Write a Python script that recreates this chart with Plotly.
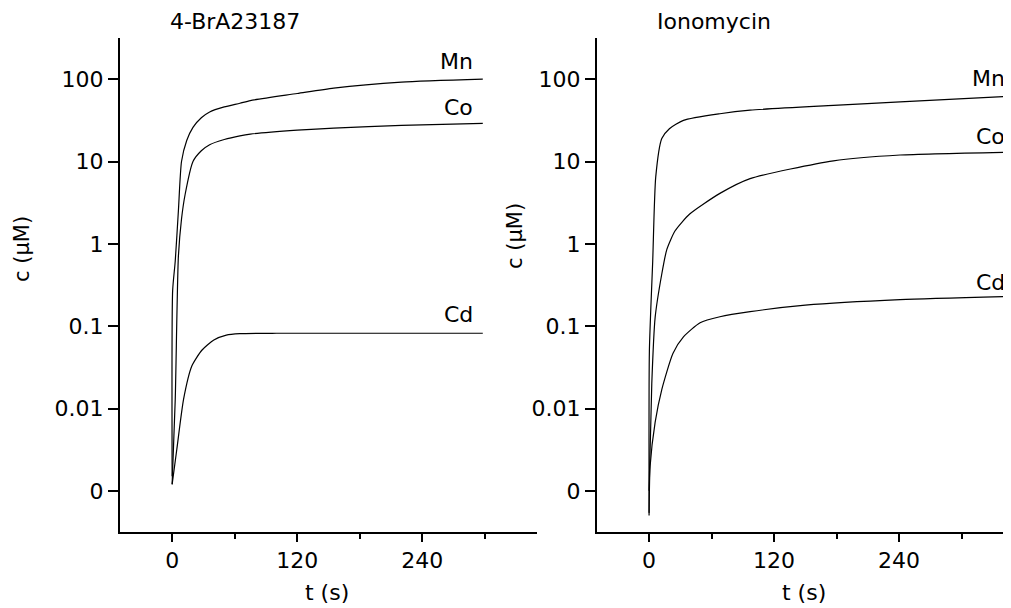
import plotly.graph_objects as go

# ---------------- data ----------------
# Left panel: 4-BrA23187
t_mn_L = [0, 0.5, 3, 6, 9, 14, 20, 28, 36, 50, 65, 75, 120, 155, 220, 298]
c_mn_L = [0.0015, 0.27, 0.62, 2.5, 10, 18, 26, 34, 40, 46, 51, 55, 67, 78, 92, 100]

t_co_L = [0, 3, 6, 9, 12.5, 20, 28, 36, 50, 65, 75, 120, 155, 220, 298]
c_co_L = [0.0012, 0.013, 0.7, 2.0, 4.0, 10, 13.5, 16.0, 18.5, 20.5, 21.5, 24, 25.5, 27.5, 29]

t_cd_L = [0, 4.5, 11, 19, 28.5, 40, 52, 65, 100, 298]
c_cd_L = [0.0012, 0.0032, 0.013, 0.033, 0.051, 0.068, 0.078, 0.081, 0.082, 0.082]

# Right panel: Ionomycin
t_mn_R = [0, 0.3, 3.5, 6.4, 12.2, 19.5, 33, 68, 97, 177, 241, 348]
c_mn_R = [0.0005, 0.05, 0.62, 6.5, 19, 25, 31.6, 38, 42, 48, 53, 62]

t_co_R = [0, 2.6, 5.8, 12.2, 17, 25, 39, 68, 97, 177, 241, 348]
c_co_R = [0.001, 0.02, 0.127, 0.43, 0.85, 1.44, 2.3, 4.1, 6.2, 10.2, 12.0, 13.0]

t_cd_R = [0, 1, 5.8, 12.2, 23, 33, 49, 68, 97, 150, 241, 348]
c_cd_R = [0.00054, 0.002, 0.0068, 0.017, 0.047, 0.074, 0.11, 0.13, 0.15, 0.18, 0.21, 0.23]

y_tickvals = [0.001, 0.01, 0.1, 1, 10, 100]
y_ticktext = ["0", "0.01", "0.1", "1", "10", "100"]
x_tickvals = [0, 120, 240]
x_ticktext = ["0", "120", "240"]

panel_titles = ["4-BrA23187", "Ionomycin"]
x_title = "t (s)"
y_title = "c (\u03bcM)"

# label positions (data coords: t, log10 c)
labels_L = [("Mn", 291, 2.22), ("Co", 291, 1.65), ("Cd", 291, -0.855)]
labels_R = [("Mn", 344, 2.01), ("Co", 344, 1.30), ("Cd", 344, -0.47)]

# ---------------- figure ----------------
# the page body has an 8 px margin, so lay out in reference pixels minus 8
OFF = 8
W, H = 1011 - OFF, 608 - OFF
FONT = "DejaVu Sans"
FS = 22


def px(x):
    return (x - OFF) / W


def py(y):
    return 1 - (y - OFF) / H


fig = go.Figure()
line = dict(color="black", width=1.2, shape="spline", smoothing=0.6)

for t, c in [(t_mn_L, c_mn_L), (t_co_L, c_co_L), (t_cd_L, c_cd_L)]:
    fig.add_trace(go.Scatter(x=t, y=c, mode="lines", line=line,
                             xaxis="x", yaxis="y", showlegend=False))
for t, c in [(t_mn_R, c_mn_R), (t_co_R, c_co_R), (t_cd_R, c_cd_R)]:
    fig.add_trace(go.Scatter(x=t, y=c, mode="lines", line=line,
                             xaxis="x2", yaxis="y2", showlegend=False))

ydom = [py(532), py(38)]


def xaxis(domain, rng, anchor):
    return dict(domain=domain, range=rng, anchor=anchor,
                showline=True, linecolor="black", linewidth=2,
                showgrid=False, zeroline=False,
                ticks="outside", ticklen=8, tickwidth=1.5, tickcolor="black",
                tickvals=x_tickvals, ticktext=x_ticktext,
                minor=dict(ticks="outside", ticklen=5, tickwidth=1.5,
                           tickcolor="black", dtick=60, tick0=0),
                tickfont=dict(family=FONT, size=FS, color="black"))


def yaxis(anchor):
    return dict(domain=ydom, type="log", range=[-3.5, 2.5], anchor=anchor,
                showline=True, linecolor="black", linewidth=2,
                showgrid=False, zeroline=False,
                ticks="outside", ticklen=10, tickwidth=1.5, tickcolor="black",
                tickvals=y_tickvals, ticktext=y_ticktext,
                tickfont=dict(family=FONT, size=FS, color="black"))


fig.update_layout(
    width=W, height=H,
    margin=dict(l=0, r=0, t=0, b=0),
    paper_bgcolor="white", plot_bgcolor="white",
    showlegend=False,
    xaxis=xaxis([px(120), px(537)], [-50, 350], "y"),
    yaxis=yaxis("x"),
    xaxis2=xaxis([px(597), 1.0], [-50, 347.5], "y2"),
    yaxis2=yaxis("x2"),
)

ann = []
tf = dict(family=FONT, size=FS, color="black")
# panel titles
ann.append(dict(text=panel_titles[0], x=px(235), y=py(21), xref="paper", yref="paper",
                showarrow=False, font=tf, xanchor="center", yanchor="middle"))
ann.append(dict(text=panel_titles[1], x=px(714), y=py(21), xref="paper", yref="paper",
                showarrow=False, font=tf, xanchor="center", yanchor="middle"))
# x titles
for xc in (327, 804):
    ann.append(dict(text=x_title, x=px(xc), y=py(592), xref="paper", yref="paper",
                    showarrow=False, font=tf, xanchor="center", yanchor="middle"))
# y titles
for xc, yc in ((22, 249), (515, 236)):
    ann.append(dict(text=y_title, x=px(xc), y=py(yc), xref="paper", yref="paper",
                    showarrow=False, font=dict(family=FONT, size=21, color="black"),
                    textangle=-90, xanchor="center", yanchor="middle"))
# curve labels
for txt, xv, yv in labels_L:
    ann.append(dict(text=txt, x=xv, y=yv, xref="x", yref="y", showarrow=False,
                    font=tf, xanchor="right", yanchor="middle"))
for txt, xv, yv in labels_R:
    ann.append(dict(text=txt, x=xv, y=yv, xref="x2", yref="y2", showarrow=False,
                    font=tf, xanchor="right", yanchor="middle"))

fig.update_layout(annotations=ann)
fig.write_html("out.html")
